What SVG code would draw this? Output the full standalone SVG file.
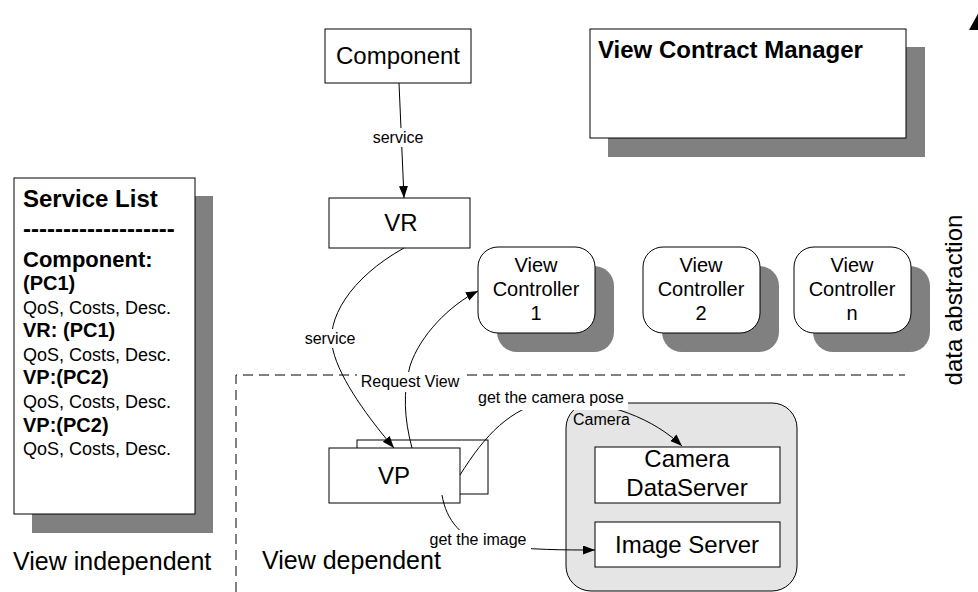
<svg xmlns="http://www.w3.org/2000/svg" width="978" height="592" viewBox="0 0 978 592">
<defs>
<style>
.t{font-family:"Liberation Sans",Arial,Helvetica,sans-serif;fill:#000}
.b{font-weight:bold}
.box{fill:#fff;stroke:#000;stroke-width:1}
.sh{fill:#808080}
.conn{fill:none;stroke:#000;stroke-width:1}
.lbl{font-size:16px}
.bg{fill:#fff}
.big{font-size:24px}
.mid{text-anchor:middle}
</style>
<marker id="arr" markerWidth="12" markerHeight="10" refX="12" refY="4.5" orient="auto" markerUnits="userSpaceOnUse">
<path d="M0,0 L12,4.5 L0,9 z" fill="#000"/>
</marker>
</defs>
<rect width="978" height="592" fill="#fff"/>

<g id="boundary">
<path d="M236,592 L236,375 L905,375" class="conn" stroke-dasharray="10,6"/>
</g>

<g id="service-list">
<rect x="32" y="196" width="181" height="337" class="sh"/>
<rect x="14" y="178" width="181" height="336" class="box"/>
<text class="t b" x="23" y="207" font-size="24">Service List</text>
<text class="t b" x="23" y="237" font-size="24">-------------------</text>
<text class="t b" x="23" y="267" font-size="22">Component:</text>
<text class="t b" x="23" y="290" font-size="20">(PC1)</text>
<text class="t" x="23" y="314" font-size="18">QoS, Costs, Desc.</text>
<text class="t b" x="23" y="337" font-size="20">VR: (PC1)</text>
<text class="t" x="23" y="361" font-size="18">QoS, Costs, Desc.</text>
<text class="t b" x="23" y="384" font-size="20">VP:(PC2)</text>
<text class="t" x="23" y="408" font-size="18">QoS, Costs, Desc.</text>
<text class="t b" x="23" y="432" font-size="20">VP:(PC2)</text>
<text class="t" x="23" y="455" font-size="18">QoS, Costs, Desc.</text>
</g>

<g id="view-contract-manager">
<rect x="608" y="47" width="317" height="110" class="sh"/>
<rect x="590" y="29" width="316" height="109" class="box"/>
<text class="t b big" x="598" y="58">View Contract Manager</text>
</g>

<g id="component">
<rect x="325" y="29" width="146" height="54" class="box"/>
<text class="t big mid" x="398" y="64">Component</text>
</g>

<g id="vr">
<rect x="329" y="198" width="141" height="50" class="box"/>
<text class="t big mid" x="401" y="231">VR</text>
</g>

<g id="vc1">
<rect x="497" y="266" width="117" height="86" rx="20" class="sh"/>
<rect x="478" y="247" width="117" height="86" rx="20" class="box"/>
<text class="t mid" font-size="20" x="536" y="272">View</text>
<text class="t mid" font-size="20" x="536" y="296">Controller</text>
<text class="t mid" font-size="20" x="536" y="320">1</text>
</g>

<g id="vc2">
<rect x="662" y="266" width="117" height="86" rx="20" class="sh"/>
<rect x="643" y="247" width="117" height="86" rx="20" class="box"/>
<text class="t mid" font-size="20" x="701" y="272">View</text>
<text class="t mid" font-size="20" x="701" y="296">Controller</text>
<text class="t mid" font-size="20" x="701" y="320">2</text>
</g>

<g id="vcn">
<rect x="813" y="266" width="117" height="86" rx="20" class="sh"/>
<rect x="794" y="247" width="117" height="86" rx="20" class="box"/>
<text class="t mid" font-size="20" x="852" y="272">View</text>
<text class="t mid" font-size="20" x="852" y="296">Controller</text>
<text class="t mid" font-size="20" x="852" y="320">n</text>
</g>

<g id="camera">
<rect x="566" y="403" width="231" height="188" rx="25" fill="#e5e5e5" stroke="#000" stroke-width="1"/>
<text class="t lbl" x="573" y="425">Camera</text>
</g>

<g id="camera-dataserver">
<rect x="595" y="447" width="185" height="56" class="box"/>
<text class="t big mid" x="687" y="467">Camera</text>
<text class="t big mid" x="687" y="496">DataServer</text>
</g>

<g id="image-server">
<rect x="595" y="522" width="185" height="45" class="box"/>
<text class="t big mid" x="687" y="553">Image Server</text>
</g>

<g id="vp">
<rect x="357" y="440" width="131" height="54" class="box"/>
<rect x="329" y="448" width="131" height="55" class="box"/>
<text class="t big mid" x="394" y="484">VP</text>
</g>

<g id="connectors">
<path class="conn" d="M399,83 L404,198" marker-end="url(#arr)"/>
<path class="conn" d="M404,248 C350,278 325,320 333,350 C340,380 370,420 394,448" marker-end="url(#arr)"/>
<path class="conn" d="M412,448 C404,418 403,392 410,366 C420,335 450,305 478,291" marker-end="url(#arr)"/>
<path class="conn" d="M460,475 C485,435 510,408 551,400 C610,400 655,420 682,446" marker-end="url(#arr)"/>
<path class="conn" d="M442,495 C446,520 462,540 490,545 C530,550 565,550 595,550" marker-end="url(#arr)"/>
<polygon points="969,30 989,30 979,12" fill="#000"/>
</g>

<g id="labels">
<rect class="bg" x="370" y="128" width="56" height="19"/>
<text class="t lbl mid" x="398" y="143">service</text>
<rect class="bg" x="302" y="329" width="56" height="19"/>
<text class="t lbl mid" x="330" y="344">service</text>
<rect class="bg" x="357" y="372" width="106" height="20"/>
<text class="t lbl mid" x="410" y="387">Request View</text>
<rect class="bg" x="474" y="388" width="154" height="22"/>
<text class="t lbl mid" x="551" y="403">get the camera pose</text>
<rect class="bg" x="426" y="530" width="105" height="20"/>
<text class="t lbl mid" x="478" y="545">get the image</text>
</g>

<g id="side-labels">
<text class="t" font-size="25" x="13" y="570">View independent</text>
<text class="t" font-size="25" x="262" y="569">View dependent</text>
<text class="t big mid" transform="translate(962,300) rotate(-90)">data abstraction</text>
</g>
</svg>
